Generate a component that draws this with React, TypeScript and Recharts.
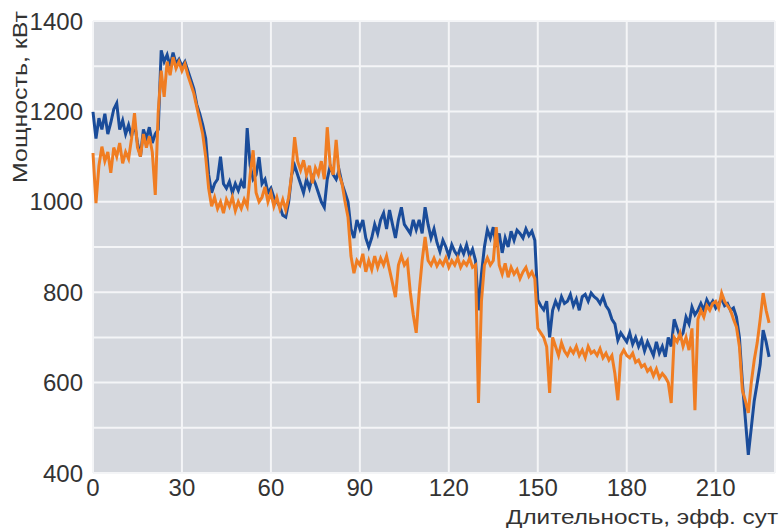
import { LineChart, Line, XAxis, YAxis, CartesianGrid, Label } from "recharts"

// power, kW, one reading per effective day (0..228)
const BLUE = [
  1199, 1140, 1185, 1160, 1195, 1150, 1175, 1205, 1218, 1160,
  1180, 1150, 1170, 1145, 1175, 1130, 1100, 1160, 1140, 1165,
  1130, 1150, 1160, 1335, 1310, 1325, 1300, 1330, 1305, 1315,
  1300, 1310, 1290, 1270, 1250, 1215, 1195, 1170, 1140, 1060,
  1020, 1040, 1050, 1100, 1040, 1030, 1045, 1020, 1040, 1025,
  1045, 1030, 1163, 1080, 1050, 1060, 1099, 1040, 1050, 1020,
  1030, 1010, 1000, 990, 970, 966, 1000, 1060, 1080, 1060,
  1040, 1020, 1050, 1030, 1055, 1040, 1020, 1000, 988, 1050,
  1080, 1060, 1050, 1070, 1040, 1020, 1000, 940, 920, 960,
  940, 960, 920, 900, 920, 950, 930, 960, 975, 940,
  982, 950, 920, 960, 988, 950, 940, 930, 960, 938,
  960, 930, 988, 950, 920, 940, 910, 890, 915, 900,
  880, 905, 890, 880, 900, 885, 905, 880, 895, 870,
  760, 840, 900, 938, 920, 944, 900, 930, 887, 920,
  900, 935, 915, 937, 930, 920, 940, 925, 935, 915,
  783, 770, 761, 780, 700, 760, 780, 765, 790, 775,
  780, 795, 770, 785, 760, 790, 795, 780, 798, 790,
  785, 775, 790, 770, 760, 740, 730, 694, 710, 700,
  690, 710, 685, 700, 680, 695, 670, 690, 675, 660,
  690, 665, 680, 657, 700, 680, 740, 720, 700, 710,
  745, 730, 767, 750, 760, 775, 760, 783, 770, 780,
  765, 775, 785, 770, 775, 760, 765, 745, 700, 600,
  520, 440, 500, 560, 599, 640, 716, 690, 657,
]

const ORANGE = [
  1108, 997, 1080, 1122, 1090, 1110, 1064, 1120, 1100, 1130,
  1085, 1110, 1095, 1140, 1196, 1120, 1100, 1150, 1120, 1145,
  1110, 1015, 1200, 1290, 1232, 1310, 1280, 1320, 1295, 1310,
  1290, 1305, 1280, 1260, 1240, 1210, 1180, 1150, 1100, 1030,
  990, 1010, 985, 1000, 975, 1005, 990, 1010, 980, 1000,
  985, 1005, 990, 1060, 1114, 1020, 1000, 1010, 1033, 1000,
  1020, 990, 1010, 985, 1005, 982, 1010, 1060, 1143, 1090,
  1070, 1092, 1060, 1080, 1041, 1075, 1060, 1090, 1050, 1165,
  1080, 1060, 1137, 1060, 1040, 1000, 966, 880, 842, 870,
  860, 885, 845, 870, 850, 880, 855, 875, 860, 880,
  850, 820, 789, 860, 880, 860, 870, 800, 750, 710,
  800, 870, 922, 870, 860, 875, 858, 870, 860, 876,
  855, 870, 860, 876, 855, 868, 860, 875, 855, 860,
  555, 780, 860, 876, 860, 870, 944, 860, 840, 864,
  833, 855, 840, 850, 830, 845, 855, 835, 845, 830,
  720, 710, 700, 679, 577, 700, 680, 660, 688, 670,
  660, 675, 665, 680, 660, 672, 655, 680, 665, 670,
  660, 675, 655, 665, 650, 660, 620, 561, 660, 672,
  660, 655, 665, 645, 650, 635, 640, 625, 632, 615,
  630, 610, 620, 612, 600, 555, 700, 690, 709, 680,
  700, 672, 720, 539, 740, 760, 745, 770, 760, 775,
  780, 765, 798, 780, 770, 760, 740, 723, 680, 583,
  560, 533, 600, 650, 688, 740, 798, 760, 732,
]

const X_TICKS = [0, 30, 60, 90, 120, 150, 180, 210]
const Y_TICKS = [400, 500, 600, 700, 800, 900, 1000, 1100, 1200, 1300, 1400]
const Y_LABELED = [400, 600, 800, 1000, 1200, 1400]

const data = BLUE.map((b, i) => ({ day: i, blue: b, orange: ORANGE[i] }))

const FONT = "'Liberation Sans', Arial, sans-serif"

export default function App() {
  return (
    <div style={{ position: "absolute", left: 0, top: 0, width: 784, height: 531, background: "#fff" }}>
      <LineChart width={784} height={531} data={data} margin={{ top: 21, right: 9, left: 0, bottom: 28 }}>
        <CartesianGrid fill="#d5d8de" stroke="#f4f5f7" strokeWidth={2} horizontal vertical />
        <XAxis
          dataKey="day"
          type="number"
          domain={[0, 230]}
          ticks={X_TICKS}
          axisLine={false}
          tickLine={false}
          height={30}
          tick={{ fontFamily: FONT, fontSize: 24, fill: "#333" }}
          tickMargin={0}
        >
          <Label
            content={() => (
              <text
                x={506}
                y={524}
                fontFamily={FONT}
                fontSize={21}
                fill="#333"
                textLength={272}
                lengthAdjust="spacingAndGlyphs"
              >
                Длительность, эфф. сут
              </text>
            )}
          />
        </XAxis>
        <YAxis
          type="number"
          domain={[400, 1400]}
          ticks={Y_TICKS}
          width={93}
          axisLine={false}
          tickLine={false}
          tickMargin={4}
          interval={0}
          tickFormatter={(v: number) => (Y_LABELED.includes(v) ? String(v) : "")}
          tick={{ fontFamily: FONT, fontSize: 24, fill: "#333" }}
        >
          <Label
            content={() => (
              <text
                x={27}
                y={97}
                transform="rotate(-90, 27, 97)"
                textAnchor="middle"
                fontFamily={FONT}
                fontSize={21}
                fill="#333"
                textLength={172}
                lengthAdjust="spacingAndGlyphs"
              >
                Мощность, кВт
              </text>
            )}
          />
        </YAxis>
        <Line type="linear" dataKey="blue" stroke="#1a4c9a" strokeWidth={3} dot={false} isAnimationActive={false} />
        <Line type="linear" dataKey="orange" stroke="#f07d22" strokeWidth={3} dot={false} isAnimationActive={false} />
      </LineChart>
    </div>
  )
}
